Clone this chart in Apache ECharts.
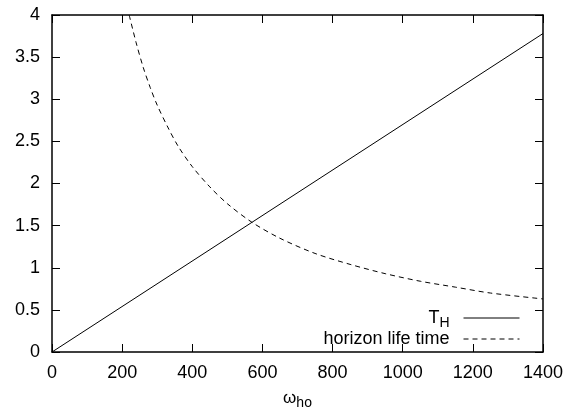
<!DOCTYPE html>
<html>
<head>
<meta charset="utf-8">
<script src="https://cdn.jsdelivr.net/npm/echarts@6/dist/echarts.min.js"></script>
<style>
html,body{margin:0;padding:0;background:#fff;}
#chart{width:579px;height:415px;}
</style>
</head>
<body>
<div id="chart"></div>
<script>
// Tick values
const xTicks = [0, 200, 400, 600, 800, 1000, 1200, 1400];
const yTicks = [0, 0.5, 1, 1.5, 2, 2.5, 3, 3.5, 4];

// Series: T_H (straight line)
const thX = [0, 1400];
const thY = [0, 3.78];

// Series: horizon life time
const hltX = [220, 240, 260, 280, 300, 330, 360, 400, 450, 500, 570, 650, 750, 850, 950, 1050, 1150, 1250, 1400];
const hltY = [4.00, 3.67, 3.38, 3.14, 2.93, 2.67, 2.44, 2.20, 1.96, 1.76, 1.54, 1.35, 1.17, 1.04, 0.93, 0.84, 0.77, 0.70, 0.63];

const seriesNames = ['TH', 'horizon life time'];

const FONT = 'Liberation Sans, Arial, sans-serif';
const chart = echarts.init(document.getElementById('chart'), null, {renderer: 'canvas'});

const xMin = xTicks[0], xMax = xTicks[xTicks.length - 1], xInt = xTicks[1] - xTicks[0];
const yMin = yTicks[0], yMax = yTicks[yTicks.length - 1], yInt = yTicks[1] - yTicks[0];

const axisLine = {show: true, onZero: false, lineStyle: {color: '#000', width: 1.5}};
const axisTick = {show: true, inside: true, length: 8, lineStyle: {color: '#000', width: 1}};

function legendFmt(name) {
  if (name === 'TH') return '{a|T}{b|H}';
  return '{a|' + name + '}';
}
const legendText = {
  fontFamily: FONT, fontSize: 18, color: '#000', padding: [0, 9, 0, 0],
  rich: {
    a: {fontFamily: FONT, fontSize: 18, color: '#000'},
    b: {fontFamily: FONT, fontSize: 14, color: '#000', padding: [10, 0, 0, 0]}
  }
};
const legendCommon = {
  orient: 'vertical', align: 'right', right: 59, padding: 0,
  itemWidth: 56, itemHeight: 14, formatter: legendFmt, textStyle: legendText,
  selectedMode: false,
  itemStyle: {color: 'rgba(0,0,0,0)', borderWidth: 0, opacity: 0},
  lineStyle: {width: 1}
};

chart.setOption({
  animation: false,
  backgroundColor: '#fff',
  grid: {left: 52, right: 36, top: 15, bottom: 59, containLabel: false},
  legend: [
    Object.assign({data: [seriesNames[0]], top: 309}, legendCommon),
    Object.assign({data: [seriesNames[1]], top: 330}, legendCommon)
  ],
  xAxis: [
    {
      type: 'value', position: 'bottom', min: xMin, max: xMax, interval: xInt,
      axisLine: axisLine, axisTick: axisTick, splitLine: {show: false},
      axisLabel: {fontFamily: FONT, fontSize: 18, color: '#000', margin: 12, formatter: v => String(v)},
      name: '{a|ω}{b|ho}', nameLocation: 'middle', nameGap: 34,
      nameTextStyle: {
        fontFamily: FONT, fontSize: 17, color: '#000',
        rich: {
          a: {fontFamily: FONT, fontSize: 17, color: '#000'},
          b: {fontFamily: FONT, fontSize: 14, color: '#000', padding: [10, 0, 0, 0]}
        }
      }
    },
    {
      type: 'value', position: 'top', min: xMin, max: xMax, interval: xInt,
      axisLine: axisLine, axisTick: axisTick, splitLine: {show: false},
      axisLabel: {show: false}
    }
  ],
  yAxis: [
    {
      type: 'value', position: 'left', min: yMin, max: yMax, interval: yInt,
      axisLine: axisLine, axisTick: axisTick, splitLine: {show: false},
      axisLabel: {fontFamily: FONT, fontSize: 18, color: '#000', margin: 12, formatter: v => String(v)}
    },
    {
      type: 'value', position: 'right', min: yMin, max: yMax, interval: yInt,
      axisLine: axisLine, axisTick: axisTick, splitLine: {show: false},
      axisLabel: {show: false}
    }
  ],
  series: [
    {
      name: seriesNames[0], type: 'line', xAxisIndex: 0, yAxisIndex: 0,
      data: thX.map((x, i) => [x, thY[i]]),
      symbol: 'none', lineStyle: {color: '#000', width: 1, type: 'solid'},
      itemStyle: {color: '#000'}
    },
    {
      name: seriesNames[1], type: 'line', xAxisIndex: 0, yAxisIndex: 0,
      data: hltX.map((x, i) => [x, hltY[i]]),
      symbol: 'none', smooth: 0.3,
      lineStyle: {color: '#000', width: 1, type: [5, 4]},
      itemStyle: {color: '#000'}
    }
  ]
});
</script>
</body>
</html>
